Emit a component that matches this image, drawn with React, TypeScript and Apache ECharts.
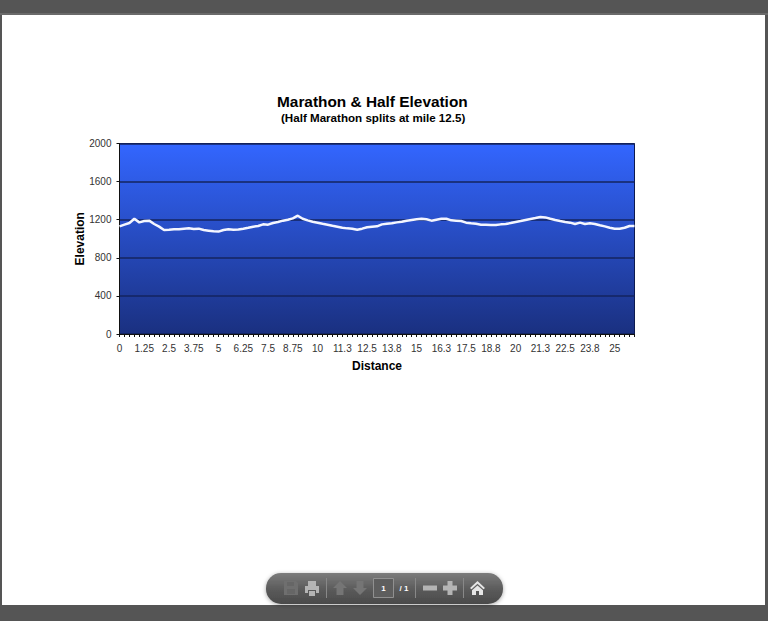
import React, { useEffect, useRef } from "react";
import * as echarts from "echarts";

const titleText = "Marathon & Half Elevation";
const subtitleText = "(Half Marathon splits at mile 12.5)";
const xAxisName = "Distance";
const yAxisName = "Elevation";
const seriesName = "Elevation";

const distanceLabels = [
  "0","0.25","0.5","0.75","1","1.25","1.5","1.75","2","2.25","2.5","2.75","3","3.25","3.5","3.75","4","4.25","4.5","4.75",
  "5","5.25","5.5","5.75","6","6.25","6.5","6.75","7","7.25","7.5","7.75","8","8.25","8.5","8.75","9","9.25","9.5","9.75",
  "10","10.3","10.5","10.8","11","11.3","11.5","11.8","12","12.3","12.5","12.8","13","13.3","13.5","13.8","14","14.3","14.5","14.8",
  "15","15.3","15.5","15.8","16","16.3","16.5","16.8","17","17.3","17.5","17.8","18","18.3","18.5","18.8","19","19.3","19.5","19.8",
  "20","20.3","20.5","20.8","21","21.3","21.5","21.8","22","22.3","22.5","22.8","23","23.3","23.5","23.8","24","24.3","24.5","24.8",
  "25","25.3","25.5","25.8","26",
];

const elevation = [
  1130,1148,1165,1210,1172,1186,1190,1155,1127,1092,1095,1099,1099,1106,1110,1102,1106,1092,1085,1078,
  1075,1092,1099,1095,1097,1106,1116,1127,1134,1151,1148,1165,1176,1190,1200,1214,1242,1210,1193,1179,
  1169,1158,1148,1137,1127,1116,1109,1106,1095,1106,1120,1127,1130,1151,1158,1162,1172,1179,1190,1197,
  1204,1210,1204,1190,1200,1210,1210,1193,1190,1186,1169,1162,1158,1148,1148,1144,1144,1151,1155,1165,
  1176,1186,1197,1207,1217,1228,1224,1210,1197,1186,1176,1169,1155,1169,1155,1162,1155,1141,1130,1116,
  1106,1106,1116,1134,1134,
];

const pageNumber = "1";
const pageTotal = "/ 1";

const FONT = '"Liberation Sans", Arial, sans-serif';

echarts.graphic.registerShape(
  "printerIcon",
  echarts.graphic.extendPath(
    "M4 0H12V5H4Z M1 5H15V12H12V9H4V12H1Z M5 10H11V15H5Z",
    {}
  )
);
echarts.graphic.registerShape(
  "saveIcon",
  echarts.graphic.extendPath(
    "M0 0H12L14 2V14H0Z",
    {}
  )
);
echarts.graphic.registerShape(
  "homeIcon",
  echarts.graphic.extendPath(
    "M7.5 0L15 7L13.5 8.3L7.5 2.8L1.5 8.3L0 7Z M7.5 4.4L13 9.3V14H9V10H6V14H2V9.3Z",
    {}
  )
);

export default function App() {
  const ref = useRef<HTMLDivElement>(null);

  useEffect(() => {
    const chart = echarts.init(ref.current!, undefined, { renderer: "svg" });
    const icon = "#b4b4b4";
    const dim = "#757575";
    chart.setOption({
      animation: false,
      backgroundColor: "#555555",
      title: [
        {
          text: titleText,
          left: 277,
          top: 94,
          padding: 0,
          textStyle: { fontFamily: FONT, fontSize: 15.4, fontWeight: "bold", color: "#000000" },
        },
        {
          text: subtitleText,
          left: 281,
          top: 111,
          padding: 0,
          textStyle: { fontFamily: FONT, fontSize: 11.6, fontWeight: "bold", color: "#000000" },
        },
      ],
      grid: {
        left: 119.5,
        top: 143.5,
        width: 515,
        height: 190.5,
        show: true,
        borderColor: "#0c1a50",
        borderWidth: 1,
        backgroundColor: new echarts.graphic.LinearGradient(0, 0, 0, 1, [
          { offset: 0, color: "#3366ff" },
          { offset: 1, color: "#1a3080" },
        ]),
      },
      xAxis: {
        type: "category",
        data: distanceLabels,
        boundaryGap: false,
        name: xAxisName,
        nameLocation: "middle",
        nameGap: 26,
        nameTextStyle: { fontFamily: FONT, fontSize: 12, fontWeight: "bold", color: "#000000" },
        axisLine: { lineStyle: { color: "#111111", width: 1 } },
        axisTick: { show: true, interval: 0, length: 3, lineStyle: { color: "#111111" } },
        axisLabel: {
          interval: (i: number) => i % 5 === 0,
          margin: 9,
          fontFamily: FONT,
          fontSize: 10,
          color: "#333333",
        },
        splitLine: { show: false },
      },
      yAxis: {
        type: "value",
        min: 0,
        max: 2000,
        interval: 400,
        name: yAxisName,
        nameLocation: "middle",
        nameGap: 34,
        nameMoveOverlap: false,
        nameTextStyle: { fontFamily: FONT, fontSize: 12, fontWeight: "bold", color: "#000000" },
        axisLine: { show: true, lineStyle: { color: "#111111", width: 1 } },
        axisTick: { show: true, length: 3, lineStyle: { color: "#111111" } },
        axisLabel: { margin: 8, fontFamily: FONT, fontSize: 10, color: "#333333", formatter: (v: number) => String(v) },
        splitLine: { show: true, lineStyle: { color: "#14245f", width: 1.5 } },
      },
      series: [
        {
          name: seriesName,
          type: "line",
          data: elevation,
          showSymbol: false,
          smooth: false,
          lineStyle: { color: "#f4f6ff", width: 2.5 },
        },
      ],
      graphic: [
        { type: "rect", z: -10, shape: { x: 2, y: 15, width: 763, height: 590 }, style: { fill: "#ffffff" } },
        { type: "rect", z: -9, shape: { x: 0, y: 13, width: 768, height: 2 }, style: { fill: "#6a6a6a" } },
        {
          type: "rect",
          z: 10,
          shape: { x: 266, y: 573, width: 237, height: 31, r: 15 },
          style: {
            fill: new echarts.graphic.LinearGradient(0, 0, 0, 1, [
              { offset: 0, color: "#7c7c7c" },
              { offset: 0.55, color: "#5a5a5a" },
              { offset: 1, color: "#4a4a4a" },
            ]),
            shadowBlur: 4,
            shadowColor: "rgba(0,0,0,0.35)",
            shadowOffsetY: 1,
          },
        },
        { type: "saveIcon", z: 11, x: 284, y: 581, style: { fill: "#6f6f6f" } },
        { type: "rect", z: 12, shape: { x: 287, y: 582, width: 7, height: 4 }, style: { fill: "#666666" } },
        { type: "rect", z: 12, shape: { x: 287, y: 589, width: 8, height: 5 }, style: { fill: "#666666" } },
        { type: "printerIcon", z: 11, x: 304, y: 581, style: { fill: icon } },
        { type: "rect", z: 11, shape: { x: 326, y: 578, width: 1, height: 20 }, style: { fill: "#888888" } },
        { type: "polygon", z: 11, shape: { points: [[340, 581], [347, 588], [343.5, 588], [343.5, 595], [336.5, 595], [336.5, 588], [333, 588]] }, style: { fill: dim } },
        { type: "polygon", z: 11, shape: { points: [[360, 595], [367, 588], [363.5, 588], [363.5, 581], [356.5, 581], [356.5, 588], [353, 588]] }, style: { fill: dim } },
        { type: "rect", z: 11, shape: { x: 373.5, y: 578.5, width: 20, height: 19 }, style: { fill: "#5e5e5e", stroke: "#909090", lineWidth: 1 } },
        { type: "text", z: 12, x: 383.5, y: 588, style: { text: pageNumber, fontFamily: FONT, fontSize: 8, fontWeight: "bold", fill: "#ffffff", align: "center", verticalAlign: "middle" } },
        { type: "text", z: 12, x: 404, y: 588, style: { text: pageTotal, fontFamily: FONT, fontSize: 8, fontWeight: "bold", fill: "#ffffff", align: "center", verticalAlign: "middle" } },
        { type: "rect", z: 11, shape: { x: 415, y: 578, width: 1, height: 20 }, style: { fill: "#888888" } },
        { type: "rect", z: 11, shape: { x: 423, y: 585.5, width: 14, height: 5 }, style: { fill: icon } },
        { type: "rect", z: 11, shape: { x: 443, y: 585.5, width: 14, height: 5 }, style: { fill: icon } },
        { type: "rect", z: 11, shape: { x: 447.5, y: 581, width: 5, height: 14 }, style: { fill: icon } },
        { type: "rect", z: 11, shape: { x: 463, y: 578, width: 1, height: 20 }, style: { fill: "#888888" } },
        { type: "homeIcon", z: 11, x: 470, y: 581, style: { fill: "#e6e6e6" } },
      ],
    });
    return () => chart.dispose();
  }, []);

  return <div ref={ref} style={{ position: "absolute", left: 0, top: 0, width: 768, height: 621 }} />;
}
